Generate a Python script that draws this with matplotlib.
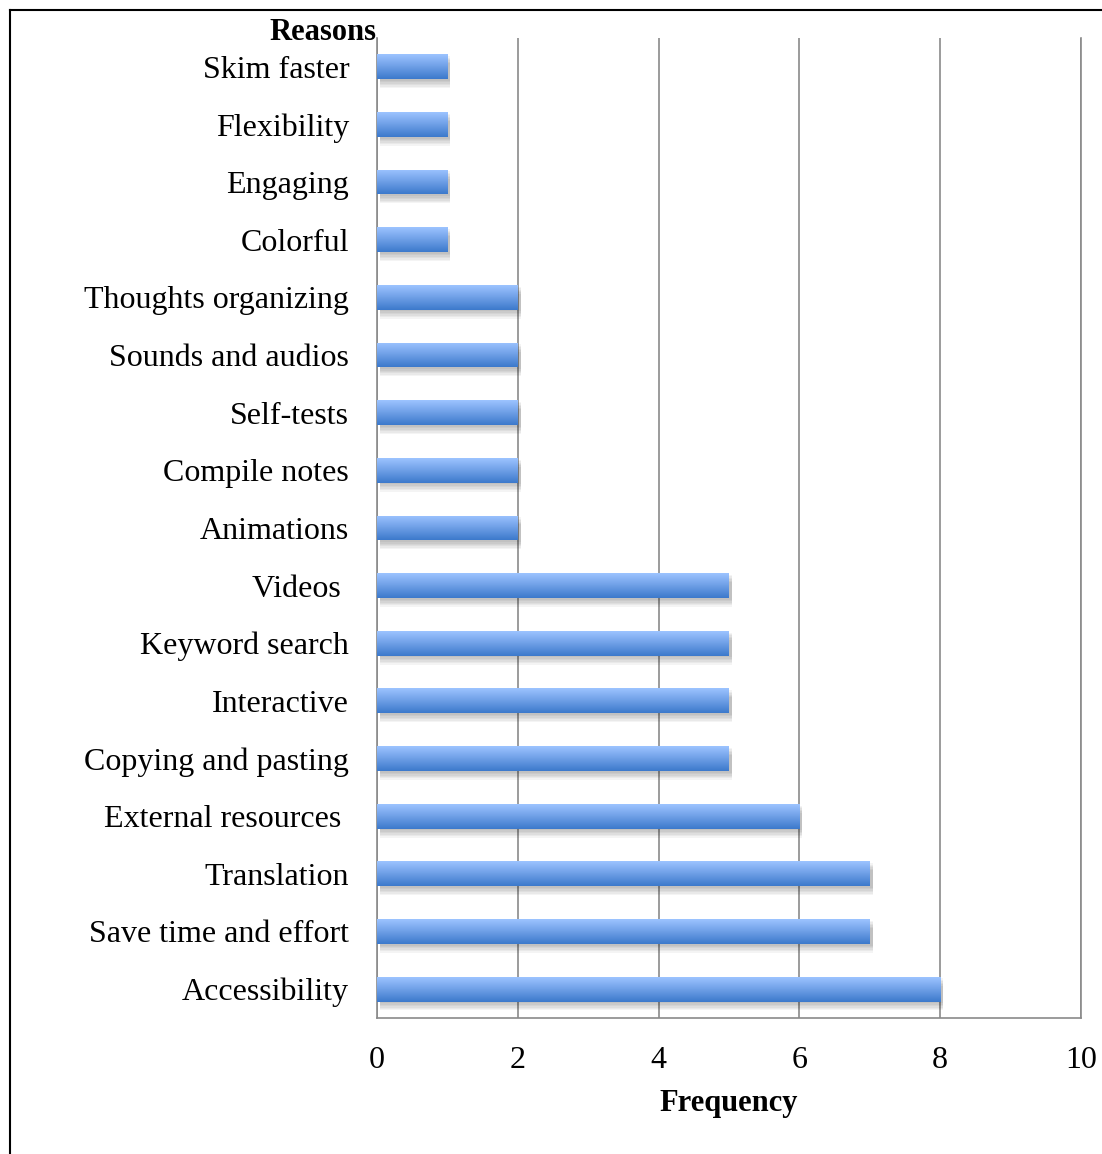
import numpy as np
import matplotlib.pyplot as plt
from matplotlib.lines import Line2D
from matplotlib.colors import LinearSegmentedColormap

plt.rcParams['font.family'] = ['Liberation Serif', 'DejaVu Serif']

reasons = ['Accessibility', 'Save time and effort', 'Translation', 'External resources ',
           'Copying and pasting', 'Interactive', 'Keyword search', 'Videos ',
           'Animations', 'Compile notes', 'Self-tests', 'Sounds and audios',
           'Thoughts organizing', 'Colorful', 'Engaging', 'Flexibility', 'Skim faster']
freq = [8, 7, 7, 6, 5, 5, 5, 5, 2, 2, 2, 2, 2, 1, 1, 1, 1]
xticks = [0, 2, 4, 6, 8, 10]

fig = plt.figure(figsize=(11.02, 11.54), dpi=100)
ax = fig.add_axes([0.3421, 0.1179, 0.6388, 0.8492])

y = np.arange(len(reasons))
h = 0.43

# soft shadow under each bar
for k in range(6):
    off = 0.03 + k * 0.025
    ax.barh(y - off, freq, height=h, left=0.04, color='#000000', alpha=0.045,
            linewidth=0, zorder=2)

bars = ax.barh(y, freq, height=h, color='#6d9ee6', linewidth=0, zorder=3)

grad = LinearSegmentedColormap.from_list('g', ['#3c7acc', '#6e9fe6', '#9cc3ff'])
g = np.linspace(0, 1, 64).reshape(-1, 1)
for b in bars:
    x0, y0 = b.get_x(), b.get_y()
    im = ax.imshow(g, cmap=grad, aspect='auto', origin='lower',
                   extent=[x0, x0 + b.get_width(), y0, y0 + b.get_height()], zorder=4)
    im.set_clip_path(b)

ax.set_xlim(0, 10)
ax.set_ylim(-0.5, len(reasons) - 0.5)
ax.set_xticks(xticks)
ax.set_xticklabels([str(t) for t in xticks])
ax.set_yticks(y)
ax.set_yticklabels(reasons)
ax.tick_params(axis='both', length=0, labelsize=23)
ax.tick_params(axis='y', pad=20)
ax.tick_params(axis='x', pad=20)
ax.xaxis.grid(True, color='#8a8a8a', linewidth=1.2)
ax.set_axisbelow(True)
ax.spines['top'].set_visible(False)
for s in ['left', 'right', 'bottom']:
    ax.spines[s].set_color('#8a8a8a')
    ax.spines[s].set_linewidth(1.2)

ax.set_xlabel('Frequency', fontsize=22, fontweight='bold', labelpad=10)
fig.text(323 / 1102, 1 - 33 / 1154, 'Reasons', fontsize=22, fontweight='bold',
         ha='center', va='center')

# outer frame (top and left edges)
fig.add_artist(Line2D([9.5 / 1102, 1], [1 - 10 / 1154, 1 - 10 / 1154], color='black', lw=1.5))
fig.add_artist(Line2D([9.5 / 1102, 9.5 / 1102], [0, 1 - 10 / 1154], color='black', lw=1.5))

fig.savefig('out.png', dpi=100)
